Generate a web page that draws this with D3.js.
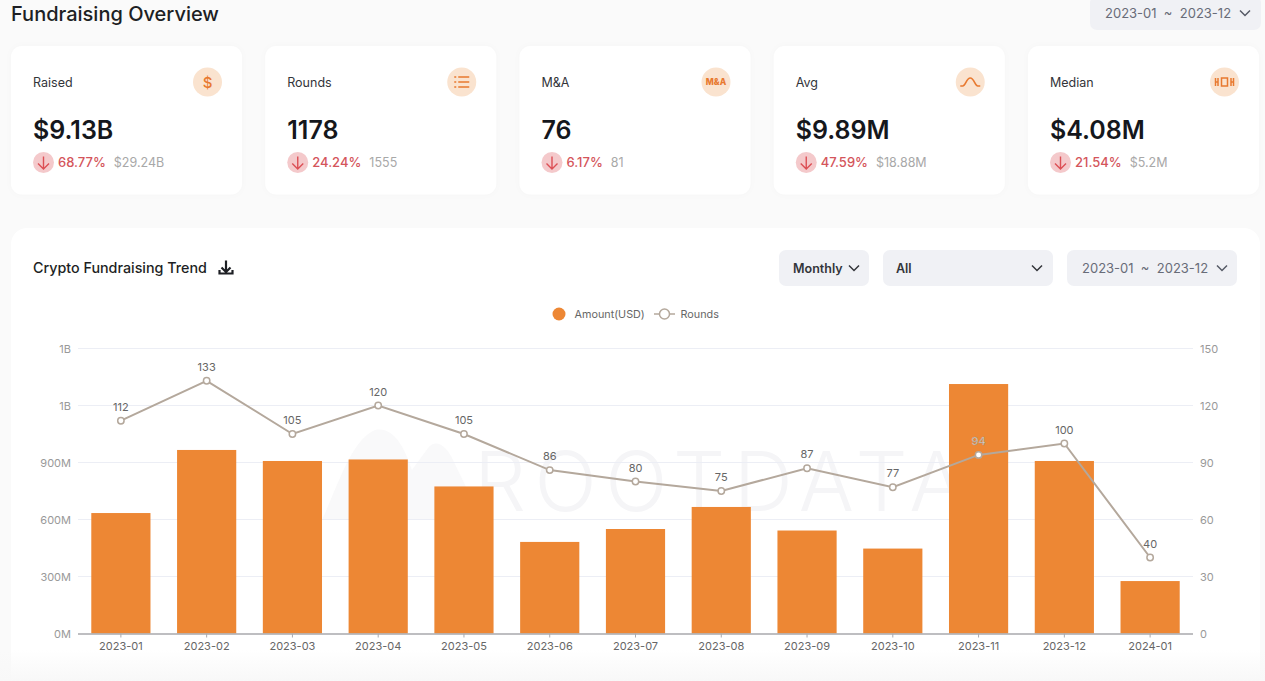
<!DOCTYPE html>
<html>
<head>
<meta charset="utf-8">
<title>Fundraising Overview</title>
<script src="https://cdn.jsdelivr.net/npm/d3@7"></script>
<style>
html, body { margin: 0; padding: 0; background: #fafafa; overflow: hidden; }
svg { display: block; font-family: Inter, "Noto Sans", sans-serif; }
.axis path { display: none; }
.axis line { stroke: none; }
</style>
</head>
<body>
<div id="container"></div>
<script>
//chart data
var months = ["2023-01","2023-02","2023-03","2023-04","2023-05","2023-06","2023-07","2023-08","2023-09","2023-10","2023-11","2023-12","2024-01"];
var amounts = [634, 966, 908, 916, 774, 482, 550, 666, 542, 447, 1313, 908, 276]; //millions USD
var rounds = [112, 133, 105, 120, 105, 86, 80, 75, 87, 77, 94, 100, 40];
var amountTicks = [0, 300, 600, 900, 1200, 1500];
var amountTickLabels = ["0M", "300M", "600M", "900M", "1B", "1B"];
var roundTicks = [0, 30, 60, 90, 120, 150];

//overview cards
var cardLabels = ["Raised", "Rounds", "M&A", "Avg", "Median"];
var cardValues = ["$9.13B", "1178", "76", "$9.89M", "$4.08M"];
var cardChanges = ["68.77%", "24.24%", "6.17%", "47.59%", "21.54%"];
var cardPrevious = ["$29.24B", "1555", "81", "$18.88M", "$5.2M"];

var width = 1265, height = 681;
var orange = "#ed8734", lineColor = "#b4a89c";

var svg = d3.select("#container").append("svg")
    .attr("width", width)
    .attr("height", height);

var defs = svg.append("defs");
var fade = defs.append("linearGradient")
    .attr("id", "bottomFade")
    .attr("x1", 0).attr("x2", 0).attr("y1", 0).attr("y2", 1);
fade.append("stop").attr("offset", 0).attr("stop-color", "#f8f8f8").attr("stop-opacity", 0);
fade.append("stop").attr("offset", 1).attr("stop-color", "#f8f8f8").attr("stop-opacity", 1);

//page title
svg.append("text")
    .attr("x", 11).attr("y", 21)
    .style("font-size", "20px")
    .style("font-weight", 500)
    .style("fill", "#1d1f24")
    .text("Fundraising Overview");

//rounded select box helper, used for the date pickers and the filters
function selectBox(x, y, w, h, label, opts) {
    var g = svg.append("g").attr("transform", "translate(" + x + "," + y + ")");
    g.append("rect")
        .attr("width", w).attr("height", h).attr("rx", 7)
        .style("fill", "#f0f1f5");
    g.append("text")
        .attr("x", opts.textX).attr("y", h / 2 + 4.5)
        .attr("xml:space", "preserve")
        .style("font-size", opts.size + "px")
        .style("font-weight", opts.weight)
        .style("fill", opts.color)
        .text(label);
    g.append("path")
        .attr("d", "M" + (opts.arrowX - 5) + "," + (h / 2 - 2.5) + "l5,5l5,-5")
        .style("fill", "none")
        .style("stroke", opts.arrowColor)
        .style("stroke-width", 1.5);
}

selectBox(1090, -4, 171, 34, "2023-01  ~  2023-12", {textX: 15, size: 13, weight: 400, color: "#686c78", arrowX: 155, arrowColor: "#555a66"});

//cards
var cardX = d3.scalePoint().domain(cardLabels).range([11, 1028]);
var cards = svg.selectAll(".card")
    .data(cardLabels)
    .enter()
    .append("g")
    .attr("class", "card")
    .attr("transform", function(d){ return "translate(" + cardX(d) + ",46)"; });

cards.append("rect")
    .attr("width", 231).attr("height", 148.5).attr("rx", 11)
    .style("fill", "#fff")
    .style("filter", "drop-shadow(0 0 3px rgba(0,0,0,0.02))");

cards.append("text")
    .attr("x", 22).attr("y", 40.5)
    .style("font-size", "12.5px")
    .style("fill", "#33353a")
    .text(function(d){ return d; });

cards.append("circle")
    .attr("cx", 196.5).attr("cy", 36).attr("r", 14.5)
    .style("fill", "#fae3cf");

cards.append("text")
    .attr("x", 22).attr("y", 92.5)
    .style("font-size", "25px")
    .style("font-weight", 600)
    .style("fill", "#15171c")
    .text(function(d, i){ return cardValues[i]; });

cards.append("circle")
    .attr("cx", 32.5).attr("cy", 116.5).attr("r", 10.5)
    .style("fill", "#f4c9cb");

cards.append("path")
    .attr("d", "M32.5,110.5v12M27,117.5l5.5,5.5l5.5,-5.5")
    .style("fill", "none")
    .style("stroke", "#dc4f55")
    .style("stroke-width", 1.4);

cards.append("text")
    .attr("x", 47).attr("y", 121)
    .style("font-size", "13px")
    .style("font-weight", 500)
    .style("fill", "#d4555b")
    .each(function(d, i){
        var g = d3.select(this);
        g.text(cardChanges[i]);
        var w = this.getComputedTextLength();
        d3.select(this.parentNode).append("text")
            .attr("x", 47 + w + 8).attr("y", 121)
            .style("font-size", "12.5px")
            .style("fill", "#a8a8a8")
            .text(cardPrevious[i]);
    });

//card icons
var iconStroke = "#e8792f";
function icon(i) { return d3.select(cards.nodes()[i]).append("g").attr("transform", "translate(196.5,36)"); }

icon(0).append("text")
    .attr("text-anchor", "middle").attr("y", 5.5)
    .style("font-size", "15px").style("font-weight", 500).style("fill", iconStroke)
    .text("$");

icon(1).selectAll("path")
    .data([-5, 0, 5])
    .enter().append("path")
    .attr("d", function(d){ return "M-7.5," + d + "h2M-3.5," + d + "h11"; })
    .style("stroke", iconStroke).style("stroke-width", 1.7);

icon(2).append("text")
    .attr("text-anchor", "middle").attr("y", 3)
    .style("font-size", "8.5px").style("font-weight", 800).style("fill", iconStroke)
    .text("M&A");

icon(3).append("path")
    .attr("d", "M-10,4h2.5c3,0 3.5,-8 7.5,-8s4.5,8 7.5,8h2.5")
    .style("fill", "none").style("stroke", iconStroke).style("stroke-width", 1.6);

icon(4).append("path")
    .attr("d", "M-9,-4v8M-6.5,-4v8M-9,0h2.5M-3,-4h6v8h-6zM6.5,-4v8M9,-4v8M6.5,0h2.5")
    .style("fill", "none").style("stroke", iconStroke).style("stroke-width", 1.5);

//main panel
svg.append("rect")
    .attr("x", 11).attr("y", 228)
    .attr("width", 1249).attr("height", 480).attr("rx", 16)
    .style("fill", "#fff");

svg.append("text")
    .attr("x", 33).attr("y", 272.5)
    .style("font-size", "14.3px")
    .style("font-weight", 500)
    .style("fill", "#1d1f24")
    .text("Crypto Fundraising Trend");

//download icon
svg.append("path")
    .attr("d", "M226,260.5v11M221.5,267.5l4.5,4.5l4.5,-4.5M219.5,270v3.5h13v-3.5")
    .style("fill", "none")
    .style("stroke", "#1d1f24")
    .style("stroke-width", 2.2);

selectBox(779, 250, 90, 36, "Monthly", {textX: 14, size: 12.5, weight: 600, color: "#33353a", arrowX: 75, arrowColor: "#33353a"});
selectBox(883, 250, 170, 36, "All", {textX: 13, size: 12.5, weight: 600, color: "#33353a", arrowX: 154, arrowColor: "#33353a"});
selectBox(1067, 250, 170, 36, "2023-01  ~  2023-12", {textX: 15, size: 13, weight: 400, color: "#686c78", arrowX: 155, arrowColor: "#555a66"});

//legend
svg.append("circle").attr("cx", 559).attr("cy", 314).attr("r", 6.5).style("fill", orange);
svg.append("text").attr("x", 574.5).attr("y", 318)
    .style("font-size", "10.8px").style("fill", "#666").text("Amount(USD)");
svg.append("line").attr("x1", 654).attr("x2", 675).attr("y1", 314).attr("y2", 314)
    .style("stroke", lineColor).style("stroke-width", 1.5);
svg.append("circle").attr("cx", 664.5).attr("cy", 314).attr("r", 5)
    .style("fill", "#fff").style("stroke", lineColor).style("stroke-width", 1.5);
svg.append("text").attr("x", 680.5).attr("y", 318)
    .style("font-size", "10.8px").style("fill", "#666").text("Rounds");

//chart frame
var plotLeft = 78, plotRight = 1193, plotTop = 348.5, plotBottom = 633.5;

var x = d3.scaleBand().domain(months).range([plotLeft, plotRight]).paddingInner(0.31).paddingOuter(0.155);
var yAmount = d3.scaleLinear().domain([0, 1500]).range([plotBottom, plotTop]);
var yRounds = d3.scaleLinear().domain([0, 150]).range([plotBottom, plotTop]);

//watermark sits behind the bars
var mark = svg.append("g").style("pointer-events", "none");
mark.append("path")
    .attr("d", "M322,520C340,480 352,440 375,430C395,426 405,450 412,470L428,448C436,438 446,446 452,458L482,520Z")
    .style("fill", "#f9f9fa");
mark.append("text")
    .attr("x", 474).attr("y", 511)
    .style("font-size", "82px")
    .style("font-weight", 300)
    .style("letter-spacing", "8.5px")
    .style("fill", "#f5f5f7")
    .text("ROOTDATA");

//gridlines
svg.selectAll(".grid")
    .data(amountTicks.slice(1))
    .enter()
    .append("line")
    .attr("class", "grid")
    .attr("x1", plotLeft).attr("x2", plotRight)
    .attr("y1", function(d){ return yAmount(d); })
    .attr("y2", function(d){ return yAmount(d); })
    .style("stroke", "#eceef5")
    .style("stroke-width", 1);

//bars
svg.selectAll(".bar")
    .data(amounts)
    .enter()
    .append("rect")
    .attr("class", "bar")
    .attr("x", function(d, i){ return x(months[i]); })
    .attr("width", x.bandwidth())
    .attr("y", function(d){ return yAmount(d); })
    .attr("height", function(d){ return plotBottom - yAmount(d); })
    .style("fill", orange);

//axes
var leftAxis = svg.append("g")
    .attr("class", "axis")
    .attr("transform", "translate(" + plotLeft + ",0)")
    .call(d3.axisLeft(yAmount).tickValues(amountTicks).tickSize(0).tickPadding(7)
        .tickFormat(function(d, i){ return amountTickLabels[i]; }));
var rightAxis = svg.append("g")
    .attr("class", "axis")
    .attr("transform", "translate(" + plotRight + ",0)")
    .call(d3.axisRight(yRounds).tickValues(roundTicks).tickSize(0).tickPadding(7));
svg.selectAll(".axis text")
    .style("font-family", "Inter, sans-serif")
    .style("font-size", "11px")
    .style("fill", "#999");

var bottomAxis = svg.append("g")
    .attr("transform", "translate(0," + plotBottom + ")")
    .call(d3.axisBottom(x).tickSize(4).tickPadding(5));
bottomAxis.select("path")
    .attr("d", "M" + plotLeft + ",0.5H" + plotRight)
    .style("stroke", "#a9a9ad")
    .style("stroke-width", 1.5);
bottomAxis.selectAll("line").style("stroke", "#a9a9ad");
bottomAxis.selectAll("text")
    .style("font-family", "Inter, sans-serif")
    .style("font-size", "11px")
    .style("fill", "#666");

//rounds line
var line = d3.line()
    .x(function(d, i){ return x(months[i]) + x.bandwidth() / 2; })
    .y(function(d){ return yRounds(d); });

svg.append("path")
    .datum(rounds)
    .attr("d", line)
    .style("fill", "none")
    .style("stroke", lineColor)
    .style("stroke-width", 2);

svg.selectAll(".point")
    .data(rounds)
    .enter()
    .append("circle")
    .attr("class", "point")
    .attr("cx", function(d, i){ return x(months[i]) + x.bandwidth() / 2; })
    .attr("cy", function(d){ return yRounds(d); })
    .attr("r", 3.2)
    .style("fill", "#fff")
    .style("stroke", lineColor)
    .style("stroke-width", 1.5);

svg.selectAll(".point-label")
    .data(rounds)
    .enter()
    .append("text")
    .attr("class", "point-label")
    .attr("x", function(d, i){ return x(months[i]) + x.bandwidth() / 2; })
    .attr("y", function(d){ return yRounds(d) - 10; })
    .attr("text-anchor", "middle")
    .style("font-size", "11px")
    .style("fill", function(d, i){ return months[i] === "2023-11" ? "#f3e6da" : "#666"; })
    .style("stroke", function(d, i){ return months[i] === "2023-11" ? "#9a8f86" : "none"; })
    .style("stroke-width", 0.4)
    .text(function(d){ return d; });

//soft fade at the bottom edge of the screenshot
svg.append("rect")
    .attr("x", 0).attr("y", 650)
    .attr("width", width).attr("height", 31)
    .style("fill", "url(#bottomFade)");
</script>
</body>
</html>
